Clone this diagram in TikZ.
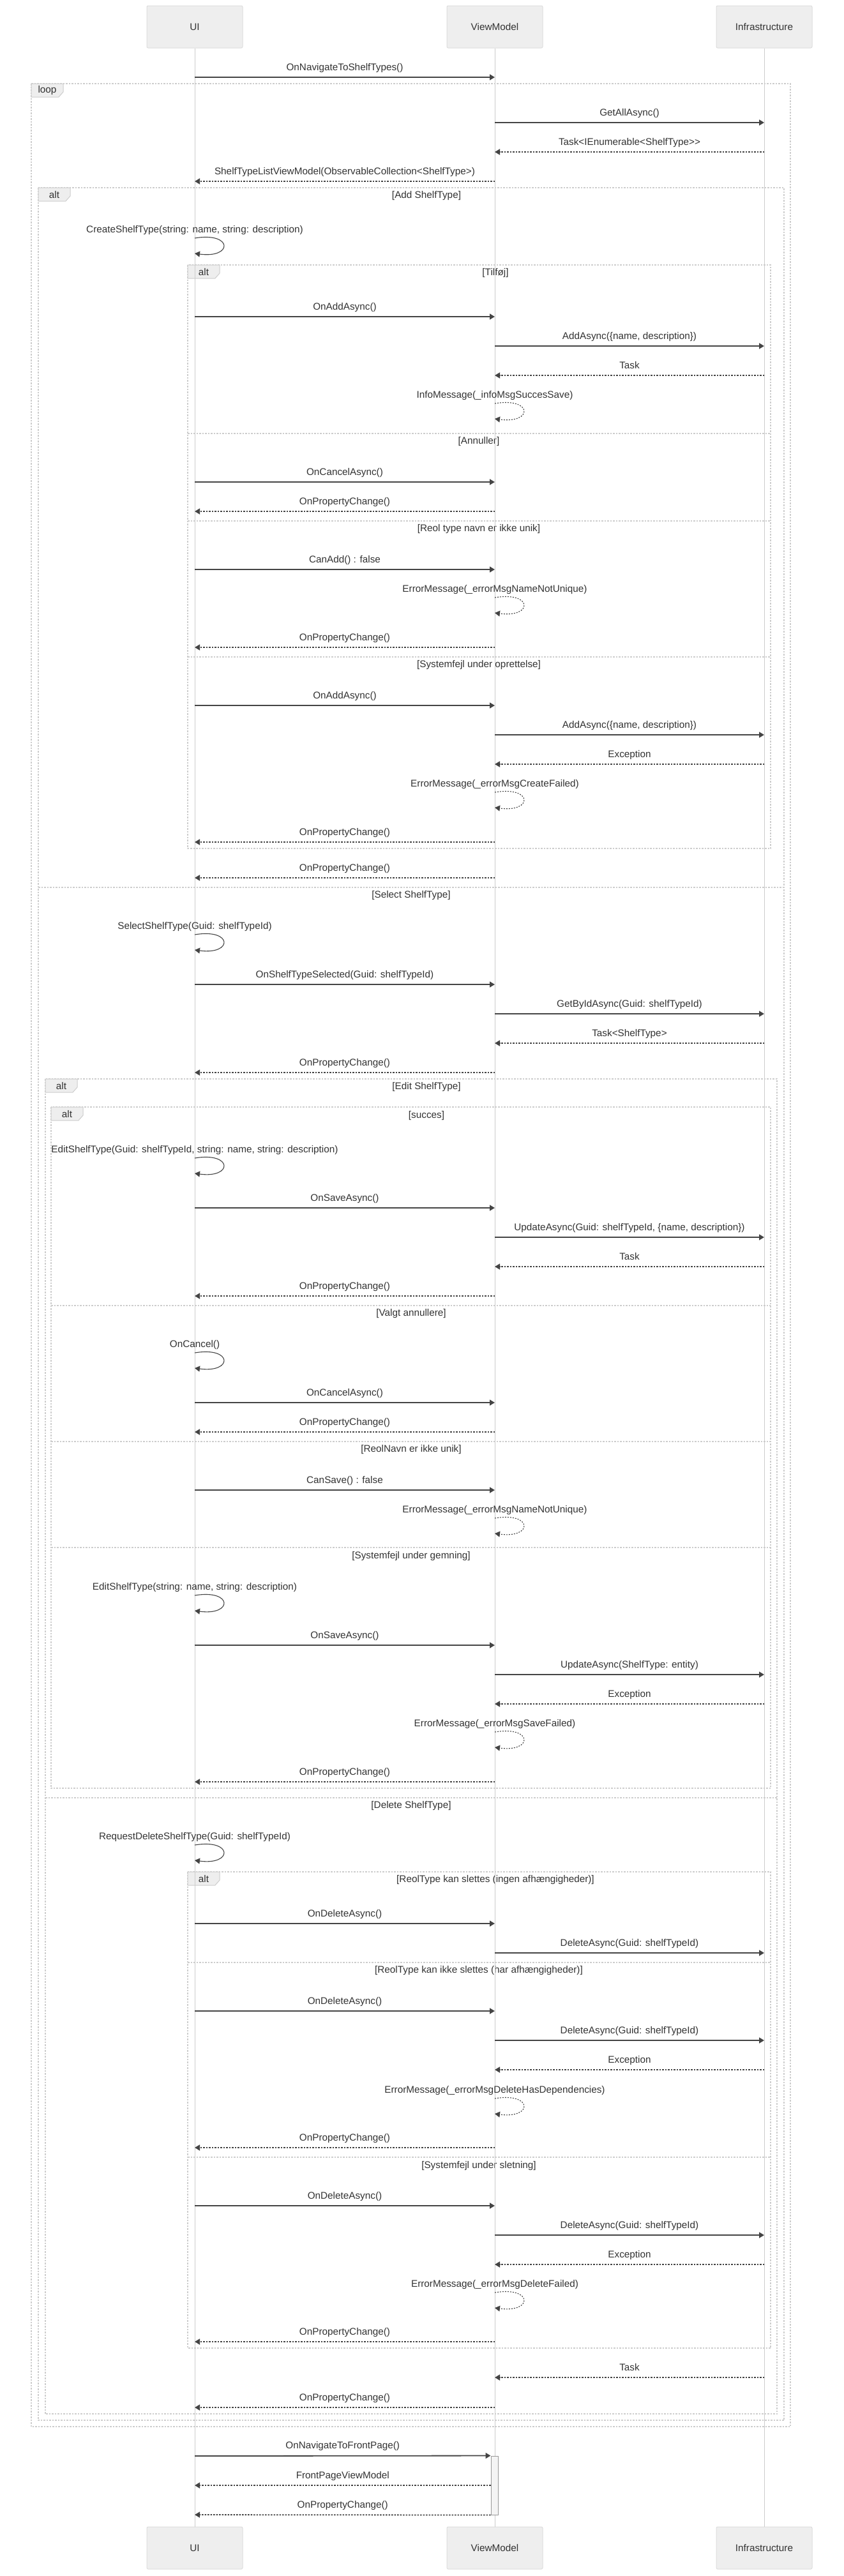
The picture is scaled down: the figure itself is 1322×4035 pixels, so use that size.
\documentclass[tikz,border=0pt]{standalone}
\usepackage{fontspec}
\setmainfont{Liberation Sans}
\usetikzlibrary{arrows.meta,calc}
\definecolor{txt}{HTML}{333333}
\definecolor{msgc}{HTML}{444444}
\definecolor{lifec}{HTML}{CCCCCC}
\definecolor{framec}{HTML}{CDCDCD}
\definecolor{actfill}{HTML}{EEEEEE}
\definecolor{actdraw}{HTML}{DDDDDD}
\definecolor{tabfill}{HTML}{EEEEEE}
\definecolor{actvfill}{HTML}{F4F4F4}
\definecolor{actvdraw}{HTML}{999999}
\newcommand{\mfont}{\fontsize{15.3}{18}\selectfont}
\newcommand{\UI}{305}
\newcommand{\VM}{775}
\newcommand{\IN}{1197}
\tikzset{
  actor/.style={draw=actdraw, fill=actfill, line width=1pt, rounded corners=2pt, minimum width=150pt, minimum height=66pt, font=\mfont, text=txt, inner sep=0pt},
  lifeline/.style={draw=lifec, line width=1pt},
  tipm/.style={-{Triangle[length=8pt,width=9pt]}},
  syncline/.style={draw=msgc, line width=1.8pt, tipm},
  replyline/.style={draw=msgc, line width=1.8pt, dash pattern=on 2.5pt off 2pt, tipm},
  selfsync/.style={draw=msgc, line width=1.1pt, tipm},
  selfreply/.style={draw=msgc, line width=1.1pt, dash pattern=on 2pt off 2pt, tipm},
  msglbl/.style={font=\mfont, text=txt, inner sep=0pt, anchor=base},
  frameline/.style={draw=framec, line width=1.2pt, dash pattern=on 2.5pt off 2pt},
  tabbox/.style={draw=framec, fill=tabfill, line width=1pt},
  tablbl/.style={font=\mfont, text=txt, inner sep=0pt},
  seclbl/.style={font=\mfont, text=txt, inner sep=0pt},
  actv/.style={draw=actvdraw, fill=actvfill, line width=1pt, minimum width=11pt, minimum height=92pt, inner sep=0pt},
}
% message between lifelines: name, y, from x, to x, label, style
\newcommand{\msgline}[6]{%
  \coordinate (#1s) at (#3,#2);
  \coordinate (#1e) at (#4,#2);
  \draw[#6] (#1s) -- (#1e);
  \path (#1s) -- (#1e) coordinate[midway] (#1m);
  \node[msglbl] (#1l) at ([yshift=11pt]#1m) {#5};
}
% self message: name, y, x, label, style
\newcommand{\selfmsg}[5]{%
  \coordinate (#1s) at (#3,#2);
  \coordinate (#1e) at (#3,#2+24);
  \draw[#5] (#1s) .. controls +(60,-10) and +(60,8) .. (#1e);
  \node[msglbl] (#1l) at ([yshift=9pt]#1s) {#4};
}
% frame: name, x1, y1, x2, y2, tab label
\newcommand{\frm}[6]{%
  \coordinate (#1a) at (#2,#3);
  \coordinate (#1b) at (#4,#5);
  \draw[frameline] (#1a) rectangle (#1b);
  \draw[tabbox] (#1a) -- ++(50,0) -- ++(0,13) -- ++(-7,8) -- ++(-43,0) -- cycle;
  \node[tablbl] (#1t) at (#2+25,#3+11) {#6};
}
% divider: name, x1, x2, y
\newcommand{\dvd}[4]{%
  \coordinate (#1a) at (#2,#4);
  \coordinate (#1b) at (#3,#4);
  \draw[frameline] (#1a) -- (#1b);
}
\begin{document}
\begin{tikzpicture}[x=1pt,y=-1pt]
\useasboundingbox[fill=white] (0,0) rectangle (1322,4035);
% frames
\frm{lp}{49}{131}{1238}{3801}{loop}
\frm{fa}{60}{294}{1228}{3791}{alt}
\frm{fb}{294}{415}{1207}{1329}{alt}
\frm{fc}{71}{1690}{1217}{3781}{alt}
\frm{fd}{80}{1734}{1207}{2801}{alt}
\frm{fe}{294}{2932}{1207}{3678}{alt}
\dvd{da}{60}{1228}{1390}
\dvd{db}{294}{1207}{679}
\dvd{dc}{294}{1207}{816}
\dvd{dd}{294}{1207}{1029}
\dvd{de}{71}{1217}{2816}
\dvd{df}{80}{1207}{2045}
\dvd{dg}{80}{1207}{2258}
\dvd{dh}{80}{1207}{2424}
\dvd{di}{294}{1207}{3074}
\dvd{dj}{294}{1207}{3379}
% section labels
\node[seclbl] (c1) at (668,307) {[Add ShelfType]};
\node[seclbl] (c2) at (776,428) {[Tilføj]};
\node[seclbl] (c3) at (750,692) {[Annuller]};
\node[seclbl] (c4) at (750,829) {[Reol type navn er ikke unik]};
\node[seclbl] (c5) at (750,1042) {[Systemfejl under oprettelse]};
\node[seclbl] (c6) at (644,1403) {[Select ShelfType]};
\node[seclbl] (c7) at (668,1703) {[Edit ShelfType]};
\node[seclbl] (c8) at (668,1748) {[succes]};
\node[seclbl] (c9) at (644,2058) {[Valgt annullere]};
\node[seclbl] (c10) at (644,2271) {[ReolNavn er ikke unik]};
\node[seclbl] (c11) at (644,2438) {[Systemfejl under gemning]};
\node[seclbl] (c12) at (644,2829) {[Delete ShelfType]};
\node[seclbl] (c13) at (776,2945) {[ReolType kan slettes (ingen afhængigheder)]};
\node[seclbl] (c14) at (750,3087) {[ReolType kan ikke slettes (har afhængigheder)]};
\node[seclbl] (c15) at (750,3392) {[Systemfejl under sletning]};
% actors
\node[actor] (uiT) at (\UI,42) {UI};
\node[actor] (vmT) at (\VM,42) {ViewModel};
\node[actor] (inT) at (\IN,42) {Infrastructure};
\node[actor] (uiB) at (\UI,3991) {UI};
\node[actor] (vmB) at (\VM,3991) {ViewModel};
\node[actor] (inB) at (\IN,3991) {Infrastructure};
\draw[lifeline] (uiT.south) -- (uiB.north);
\draw[lifeline] (vmT.south) -- (vmB.north);
\draw[lifeline] (inT.south) -- (inB.north);
% messages
\msgline{m1}{121}{\UI}{\VM}{OnNavigateToShelfTypes()}{syncline}
\msgline{m2}{192}{\VM}{\IN}{GetAllAsync()}{syncline}
\msgline{m3}{238}{\IN}{\VM}{Task<IEnumerable<ShelfType>{}>}{replyline}
\msgline{m4}{284}{\VM}{\UI}{ShelfTypeListViewModel(ObservableCollection<ShelfType>)}{replyline}
\selfmsg{s1}{373}{\UI}{CreateShelfType(string: name, string: description)}{selfsync}
\msgline{m5}{496}{\UI}{\VM}{OnAddAsync()}{syncline}
\msgline{m6}{542}{\VM}{\IN}{AddAsync(\{name, description\})}{syncline}
\msgline{m7}{588}{\IN}{\VM}{Task}{replyline}
\selfmsg{s2}{632}{\VM}{InfoMessage(\_infoMsgSuccesSave)}{selfreply}
\msgline{m8}{755}{\UI}{\VM}{OnCancelAsync()}{syncline}
\msgline{m9}{801}{\VM}{\UI}{OnPropertyChange()}{replyline}
\msgline{m10}{892}{\UI}{\VM}{CanAdd() : false}{syncline}
\selfmsg{s3}{936}{\VM}{ErrorMessage(\_errorMsgNameNotUnique)}{selfreply}
\msgline{m11}{1014}{\VM}{\UI}{OnPropertyChange()}{replyline}
\msgline{m12}{1105}{\UI}{\VM}{OnAddAsync()}{syncline}
\msgline{m13}{1151}{\VM}{\IN}{AddAsync(\{name, description\})}{syncline}
\msgline{m14}{1197}{\IN}{\VM}{Exception}{replyline}
\selfmsg{s4}{1241}{\VM}{ErrorMessage(\_errorMsgCreateFailed)}{selfreply}
\msgline{m15}{1319}{\VM}{\UI}{OnPropertyChange()}{replyline}
\msgline{m16}{1375}{\VM}{\UI}{OnPropertyChange()}{replyline}
\selfmsg{s5}{1464}{\UI}{SelectShelfType(Guid: shelfTypeId)}{selfsync}
\msgline{m17}{1542}{\UI}{\VM}{OnShelfTypeSelected(Guid: shelfTypeId)}{syncline}
\msgline{m18}{1588}{\VM}{\IN}{GetByIdAsync(Guid: shelfTypeId)}{syncline}
\msgline{m19}{1634}{\IN}{\VM}{Task<ShelfType>}{replyline}
\msgline{m20}{1680}{\VM}{\UI}{OnPropertyChange()}{replyline}
\selfmsg{s6}{1814}{\UI}{EditShelfType(Guid: shelfTypeId, string: name, string: description)}{selfsync}
\msgline{m21}{1892}{\UI}{\VM}{OnSaveAsync()}{syncline}
\msgline{m22}{1938}{\VM}{\IN}{UpdateAsync(Guid: shelfTypeId, \{name, description\})}{syncline}
\msgline{m23}{1984}{\IN}{\VM}{Task}{replyline}
\msgline{m24}{2030}{\VM}{\UI}{OnPropertyChange()}{replyline}
\selfmsg{s7}{2119}{\UI}{OnCancel()}{selfsync}
\msgline{m25}{2197}{\UI}{\VM}{OnCancelAsync()}{syncline}
\msgline{m26}{2243}{\VM}{\UI}{OnPropertyChange()}{replyline}
\msgline{m27}{2334}{\UI}{\VM}{CanSave() : false}{syncline}
\selfmsg{s8}{2378}{\VM}{ErrorMessage(\_errorMsgNameNotUnique)}{selfreply}
\selfmsg{s9}{2499}{\UI}{EditShelfType(string: name, string: description)}{selfsync}
\msgline{m28}{2577}{\UI}{\VM}{OnSaveAsync()}{syncline}
\msgline{m29}{2623}{\VM}{\IN}{UpdateAsync(ShelfType: entity)}{syncline}
\msgline{m30}{2669}{\IN}{\VM}{Exception}{replyline}
\selfmsg{s10}{2713}{\VM}{ErrorMessage(\_errorMsgSaveFailed)}{selfreply}
\msgline{m31}{2791}{\VM}{\UI}{OnPropertyChange()}{replyline}
\selfmsg{s11}{2890}{\UI}{RequestDeleteShelfType(Guid: shelfTypeId)}{selfsync}
\msgline{m32}{3013}{\UI}{\VM}{OnDeleteAsync()}{syncline}
\msgline{m33}{3059}{\VM}{\IN}{DeleteAsync(Guid: shelfTypeId)}{syncline}
\msgline{m34}{3150}{\UI}{\VM}{OnDeleteAsync()}{syncline}
\msgline{m35}{3196}{\VM}{\IN}{DeleteAsync(Guid: shelfTypeId)}{syncline}
\msgline{m36}{3242}{\IN}{\VM}{Exception}{replyline}
\selfmsg{s12}{3287}{\VM}{ErrorMessage(\_errorMsgDeleteHasDependencies)}{selfreply}
\msgline{m37}{3364}{\VM}{\UI}{OnPropertyChange()}{replyline}
\msgline{m38}{3455}{\UI}{\VM}{OnDeleteAsync()}{syncline}
\msgline{m39}{3501}{\VM}{\IN}{DeleteAsync(Guid: shelfTypeId)}{syncline}
\msgline{m40}{3547}{\IN}{\VM}{Exception}{replyline}
\selfmsg{s13}{3591}{\VM}{ErrorMessage(\_errorMsgDeleteFailed)}{selfreply}
\msgline{m41}{3668}{\VM}{\UI}{OnPropertyChange()}{replyline}
\msgline{m42}{3724}{\IN}{\VM}{Task}{replyline}
\msgline{m43}{3771}{\VM}{\UI}{OnPropertyChange()}{replyline}
% activation
\node[actv] (act) at (774.5,3893) {};
\coordinate (m44s) at (\UI,3847);
\draw[syncline] (m44s) -- (act.north west);
\path (m44s) -- (act.north west) coordinate[midway] (m44m);
\node[msglbl] (m44l) at ([yshift=11pt]m44m) {OnNavigateToFrontPage()};
\coordinate (m45e) at (\UI,3893);
\draw[replyline] (act.west) -- (m45e);
\path (act.west) -- (m45e) coordinate[midway] (m45m);
\node[msglbl] (m45l) at ([yshift=11pt]m45m) {FrontPageViewModel};
\coordinate (m46e) at (\UI,3939);
\draw[replyline] (act.south west) -- (m46e);
\path (act.south west) -- (m46e) coordinate[midway] (m46m);
\node[msglbl] (m46l) at ([yshift=11pt]m46m) {OnPropertyChange()};
\end{tikzpicture}
\end{document}
